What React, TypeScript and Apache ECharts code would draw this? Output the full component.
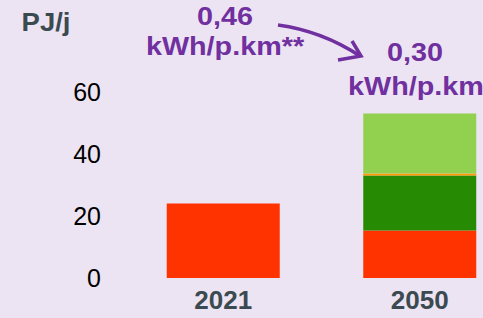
import React, { useEffect, useRef } from "react";
import * as echarts from "echarts";

const categories = ["2021", "2050"];
const redValues = [24, 15.3];
const darkGreenValues = [null, 17.8];
const orangeValues = [null, 0.6];
const lightGreenValues = [null, 19.4];
const yTicks = { min: 0, max: 60, interval: 20 };
const unitLabel = "PJ/j";
const before = ["0,46", "kWh/p.km**"];
const after = ["0,30", "kWh/p.km"];

const PURPLE = "#7030A0";
const GREY = "#3B4A50";
const FONT = "'Liberation Sans', Arial, sans-serif";

function ptext(x: number, y: number, text: string, size: number, color: string, sx: number) {
  return {
    type: "text",
    x,
    y,
    scaleX: sx,
    style: {
      text,
      fill: color,
      font: `bold ${size}px ${FONT}`,
      align: "center",
      verticalAlign: "middle",
      textAlign: "center",
      textVerticalAlign: "middle",
    },
  };
}

export default function App() {
  const ref = useRef<HTMLDivElement>(null);
  useEffect(() => {
    if (!ref.current) return;
    const chart = echarts.init(ref.current, undefined, { renderer: "svg" });
    const bar = (name: string, data: (number | null)[], color: string) => ({
      name,
      type: "bar",
      stack: "total",
      data,
      barWidth: 113,
      itemStyle: { color },
    });
    chart.setOption({
      animation: false,
      backgroundColor: "#EDE4F3",
      grid: { left: 125, top: 92, width: 393, height: 186, outerBoundsMode: "none", containLabel: false },
      xAxis: {
        type: "category",
        data: categories,
        axisLine: { show: false },
        axisTick: { show: false },
        axisLabel: {
          margin: 9,
          color: GREY,
          fontWeight: "bold",
          fontSize: 26,
          fontFamily: FONT,
        },
      },
      yAxis: {
        type: "value",
        min: yTicks.min,
        max: yTicks.max,
        interval: yTicks.interval,
        axisLine: { show: false },
        axisTick: { show: false },
        splitLine: { show: false },
        axisLabel: { margin: 24, color: "#000", fontSize: 25, fontFamily: FONT },
      },
      series: [
        bar("red", redValues, "#FF3300"),
        bar("darkgreen", darkGreenValues, "#278A03"),
        bar("orange", orangeValues, "#FF9A00"),
        bar("lightgreen", lightGreenValues, "#92D050"),
      ],
      graphic: [
        ptext(46, 22, unitLabel, 25, GREY, 1.1),
        ptext(225, 17, before[0], 25, PURPLE, 1.15),
        ptext(225, 47, before[1], 25, PURPLE, 1.15),
        ptext(415, 53, after[0], 25, PURPLE, 1.15),
        ptext(416, 87, after[1], 25, PURPLE, 1.15),
        {
          type: "bezierCurve",
          shape: { x1: 278, y1: 25, cpx1: 322, cpy1: 31, x2: 360, y2: 56 },
          style: { stroke: PURPLE, lineWidth: 3.5, fill: null },
        },
        {
          type: "polyline",
          shape: { points: [[352, 41], [361, 56], [338, 60]] },
          style: { stroke: PURPLE, lineWidth: 3.5, fill: null, lineJoin: "miter" },
        },
      ],
    });
    return () => chart.dispose();
  }, []);
  return (
    <div
      ref={ref}
      style={{ position: "fixed", left: 0, top: 0, width: 483, height: 318 }}
    />
  );
}
